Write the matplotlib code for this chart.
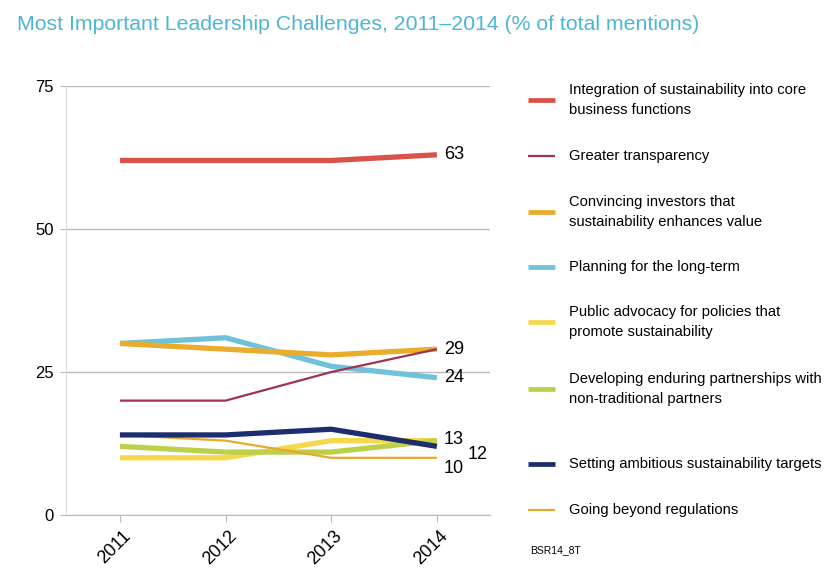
import matplotlib.pyplot as plt
from matplotlib import font_manager
from matplotlib.lines import Line2D

# === Data ===
years = [2011, 2012, 2013, 2014]
integration = [62, 62, 62, 63]
transparency = [20, 20, 25, 29]
investors = [30, 29, 28, 29]
long_term = [30, 31, 26, 24]
advocacy = [10, 10, 13, 13]
partnerships = [12, 11, 11, 13]
targets = [14, 14, 15, 12]
regulations = [14, 13, 10, 10]

labels = [
    "Integration of sustainability into core\nbusiness functions",
    "Greater transparency",
    "Convincing investors that\nsustainability enhances value",
    "Planning for the long-term",
    "Public advocacy for policies that\npromote sustainability",
    "Developing enduring partnerships with\nnon-traditional partners",
    "Setting ambitious sustainability targets",
    "Going beyond regulations",
]
series = [integration, transparency, investors, long_term,
          advocacy, partnerships, targets, regulations]
colors = ['#D9534A', '#9E3352', '#E9AC2C', '#6EC2DA',
          '#F6D84C', '#BDD049', '#1C2E6D', '#E8A930']
widths = [3.8, 1.6, 3.8, 3.8, 3.8, 3.8, 3.8, 1.6]

end_labels = ['63', None, '29', '24', '13', None, '12', '10']
end_offsets = [(5, 0), None, (5, 0), (5, 0), (5, 1), None, (22, -6), (5, -8)]

# === Fonts ===
names = {f.name for f in font_manager.fontManager.ttflist}
narrow = 'Liberation Sans Narrow' if 'Liberation Sans Narrow' in names else 'Liberation Sans'
plt.rcParams['font.family'] = ['Liberation Sans', 'DejaVu Sans']

fig = plt.figure(figsize=(8.39, 5.85), dpi=100)
ax = fig.add_axes([0.0787, 0.1197, 0.505, 0.733])

# draw order: thin lines on top of thick ones where they overlap
order = [0, 3, 2, 4, 5, 7, 6, 1]
for i in order:
    ax.plot(years, series[i], color=colors[i], lw=widths[i],
            solid_capstyle='butt', zorder=3)

for i, txt in enumerate(end_labels):
    if txt is None:
        continue
    ax.annotate(txt, (years[-1], series[i][-1]), xytext=end_offsets[i],
                textcoords='offset points', va='center', ha='left',
                fontsize=13, family=narrow)

ax.set_xlim(2010.49, 2014.5)
ax.set_ylim(0, 75)
ax.set_yticks([0, 25, 50, 75])
ax.set_xticks(years)
ax.set_xticklabels([])
# rotated year labels, nudged right of the tick like the original
for y in years:
    ax.annotate(str(y), (y, 0), xycoords=('data', 'axes fraction'),
                xytext=(6, -13), textcoords='offset points',
                rotation=45, ha='right', va='center', rotation_mode='anchor',
                fontsize=13, family=narrow, annotation_clip=False)
for t in ax.get_yticklabels():
    t.set_fontsize(12)
    t.set_family(narrow)
ax.tick_params(axis='y', length=4, color='#BBBBBB', pad=5)
ax.tick_params(axis='x', length=5, color='#BBBBBB')
ax.grid(axis='y', color='#BBBBBB', lw=1)
ax.set_axisbelow(True)
for s in ['top', 'right']:
    ax.spines[s].set_visible(False)
ax.spines['left'].set_color('#DDDDDD')
ax.spines['bottom'].set_color('#BBBBBB')

fig.text(17 / 839, 1 - 25 / 585,
         "Most Important Leadership Challenges, 2011\u20132014 (% of total mentions)",
         color='#4DB6D6', fontsize=15.3, va='center', ha='left')

# === Legend (manual) ===
leg_y = [100, 156, 212, 267, 322, 389, 464, 510]
H = 585.0
W = 839.0
for i, yy in enumerate(leg_y):
    yf = 1 - yy / H
    fig.add_artist(Line2D([528 / W, 555 / W], [yf, yf], color=colors[i],
                          lw=widths[i] * 0.9 if widths[i] > 2 else 1.6,
                          solid_capstyle='butt'))
    fig.text(569 / W, yf, labels[i], fontsize=10.6, family=narrow,
             va='center', ha='left', linespacing=1.55)

fig.text(530 / W, 1 - 550 / H, "BSR14_8T", fontsize=7.5, family=narrow, va='center')

fig.savefig('out.png', dpi=100, facecolor='white')
